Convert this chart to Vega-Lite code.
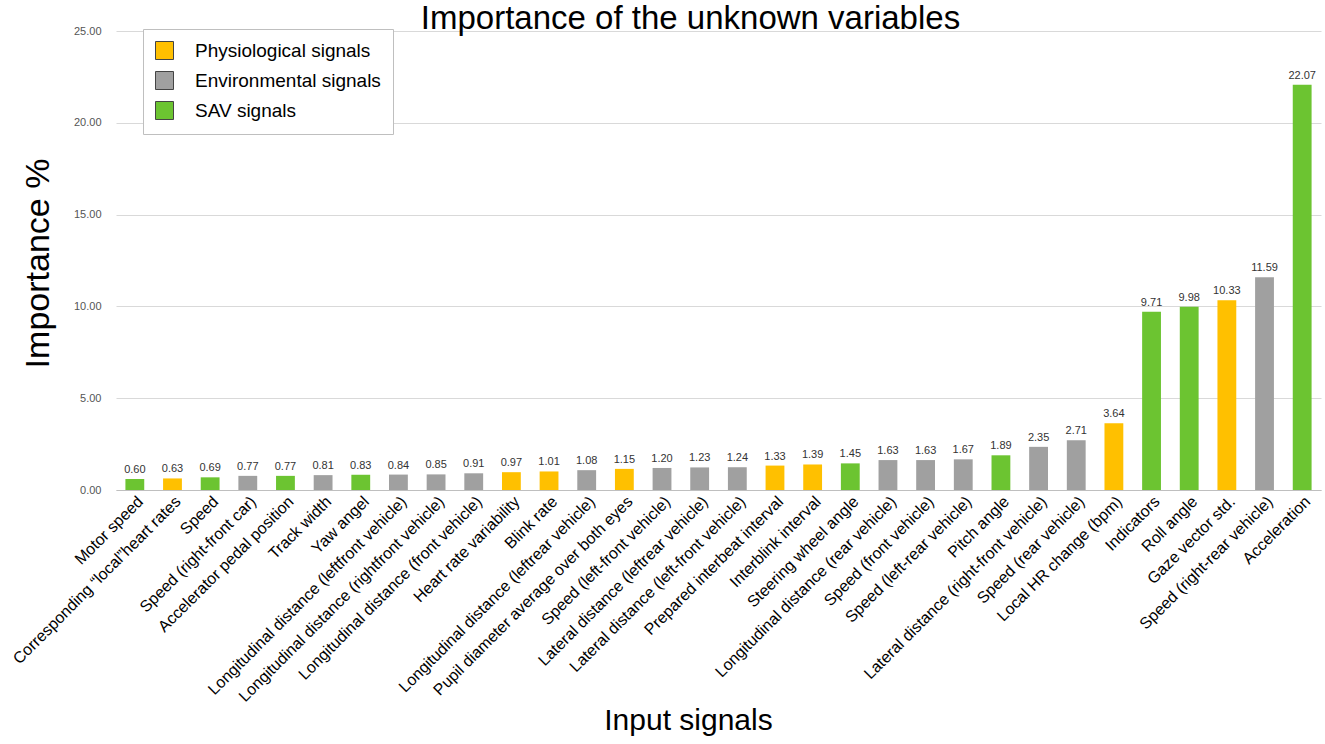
{
  "$schema": "https://vega.github.io/schema/vega-lite/v6.json",
  "width": 1205,
  "height": 459,
  "autosize": {"type": "none"},
  "padding": {"left": 116, "top": 31, "right": 4, "bottom": 254},
  "background": "white",
  "title": {"text": "Importance of the unknown variables", "fontSize": 33, "font": "Liberation Sans", "fontWeight": "normal", "color": "#000000", "anchor": "middle", "dx": -28, "offset": -11},
  "data": {"values": [
    {"signal": "Motor speed", "value": 0.60, "type": "SAV signals"},
    {"signal": "Corresponding “local”heart rates", "value": 0.63, "type": "Physiological signals"},
    {"signal": "Speed", "value": 0.69, "type": "SAV signals"},
    {"signal": "Speed (right-front car)", "value": 0.77, "type": "Environmental signals"},
    {"signal": "Accelerator pedal position", "value": 0.77, "type": "SAV signals"},
    {"signal": "Track width", "value": 0.81, "type": "Environmental signals"},
    {"signal": "Yaw angel", "value": 0.83, "type": "SAV signals"},
    {"signal": "Longitudinal distance (leftfront vehicle)", "value": 0.84, "type": "Environmental signals"},
    {"signal": "Longitudinal distance (rightfront vehicle)", "value": 0.85, "type": "Environmental signals"},
    {"signal": "Longitudinal distance (front vehicle)", "value": 0.91, "type": "Environmental signals"},
    {"signal": "Heart rate variability", "value": 0.97, "type": "Physiological signals"},
    {"signal": "Blink rate", "value": 1.01, "type": "Physiological signals"},
    {"signal": "Longitudinal distance (leftrear vehicle)", "value": 1.08, "type": "Environmental signals"},
    {"signal": "Pupil diameter average over both eyes", "value": 1.15, "type": "Physiological signals"},
    {"signal": "Speed (left-front vehicle)", "value": 1.20, "type": "Environmental signals"},
    {"signal": "Lateral distance (leftrear vehicle)", "value": 1.23, "type": "Environmental signals"},
    {"signal": "Lateral distance (left-front vehicle)", "value": 1.24, "type": "Environmental signals"},
    {"signal": "Prepared interbeat interval", "value": 1.33, "type": "Physiological signals"},
    {"signal": "Interblink interval", "value": 1.39, "type": "Physiological signals"},
    {"signal": "Steering wheel angle", "value": 1.45, "type": "SAV signals"},
    {"signal": "Longitudinal distance (rear vehicle)", "value": 1.63, "type": "Environmental signals"},
    {"signal": "Speed (front vehicle)", "value": 1.63, "type": "Environmental signals"},
    {"signal": "Speed (left-rear vehicle)", "value": 1.67, "type": "Environmental signals"},
    {"signal": "Pitch angle", "value": 1.89, "type": "SAV signals"},
    {"signal": "Lateral distance (right-front vehicle)", "value": 2.35, "type": "Environmental signals"},
    {"signal": "Speed (rear vehicle)", "value": 2.71, "type": "Environmental signals"},
    {"signal": "Local HR change (bpm)", "value": 3.64, "type": "Physiological signals"},
    {"signal": "Indicators", "value": 9.71, "type": "SAV signals"},
    {"signal": "Roll angle", "value": 9.98, "type": "SAV signals"},
    {"signal": "Gaze vector std.", "value": 10.33, "type": "Physiological signals"},
    {"signal": "Speed (right-rear vehicle)", "value": 11.59, "type": "Environmental signals"},
    {"signal": "Acceleration", "value": 22.07, "type": "SAV signals"}
  ]},
  "encoding": {
    "x": {
      "field": "signal", "type": "nominal", "sort": null,
      "scale": {"paddingInner": 0.5, "paddingOuter": 0.25},
      "axis": {
        "title": "Input signals", "titleFontSize": 30, "titleFont": "Liberation Sans", "titleFontWeight": "normal", "titleColor": "#000000",
        "titleX": 572, "titleY": 230, "titleBaseline": "middle",
        "labelAngle": -45, "labelFontSize": 16, "labelFont": "Liberation Sans", "labelColor": "#000000", "labelLimit": 400, "labelPadding": 3,
        "ticks": false, "domainColor": "#BFBFBF", "domainWidth": 1
      }
    },
    "y": {
      "field": "value", "type": "quantitative",
      "scale": {"domain": [0, 25]},
      "axis": {
        "title": "Importance %", "titleFontSize": 34, "titleFont": "Liberation Sans", "titleFontWeight": "normal", "titleColor": "#000000",
        "titleX": -78, "titleY": 232, "titleBaseline": "middle", "titleAlign": "center",
        "values": [0, 5, 10, 15, 20, 25], "format": ".2f",
        "labelFontSize": 11, "labelFont": "Liberation Sans", "labelColor": "#555555", "labelPadding": 15,
        "ticks": false, "domain": false, "gridColor": "#D9D9D9", "gridWidth": 1
      }
    }
  },
  "layer": [
    {
      "mark": {"type": "bar"},
      "encoding": {
        "color": {
          "field": "type", "type": "nominal",
          "scale": {"domain": ["Physiological signals", "Environmental signals", "SAV signals"], "range": ["#FFC000", "#A0A0A0", "#6CC431"]},
          "legend": {
            "title": null, "orient": "none", "legendX": 27, "legendY": -2,
            "symbolType": "square", "symbolSize": 324, "symbolStrokeColor": "#444444", "symbolStrokeWidth": 1,
            "labelFontSize": 19, "labelFont": "Liberation Sans", "labelColor": "#000000", "labelOffset": 21,
            "rowPadding": 7, "padding": 12, "strokeColor": "#BFBFBF", "fillColor": "white", "cornerRadius": 0, "labelLimit": 300
          }
        }
      }
    },
    {
      "mark": {"type": "text", "dy": -9, "fontSize": 11, "font": "Liberation Sans", "color": "#333333"},
      "encoding": {"text": {"field": "value", "type": "quantitative", "format": ".2f"}}
    }
  ],
  "config": {"view": {"stroke": null}}
}
